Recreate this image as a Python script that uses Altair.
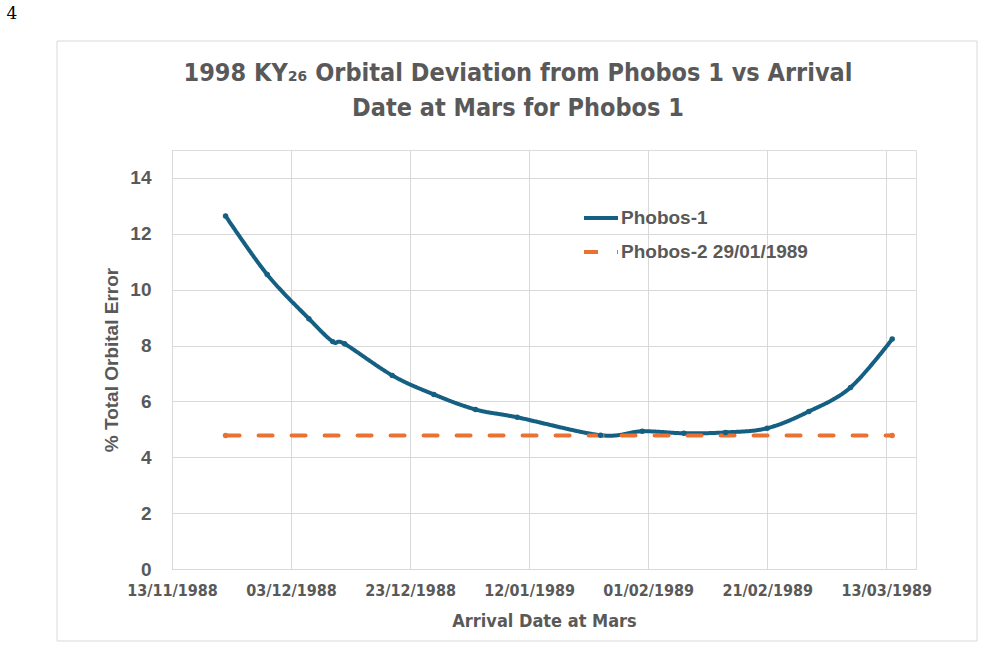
import altair as alt
import pandas as pd

# ---- data ----
p1_dates = ["1988-11-22", "1988-11-29", "1988-12-06", "1988-12-10", "1988-12-12",
            "1988-12-20", "1988-12-27", "1989-01-03", "1989-01-10", "1989-01-24",
            "1989-01-31", "1989-02-07", "1989-02-14", "1989-02-21", "1989-02-28",
            "1989-03-07", "1989-03-14"]
p1_values = [12.64, 10.54, 8.96, 8.14, 8.06, 6.93, 6.25, 5.71, 5.43, 4.79,
             4.93, 4.86, 4.89, 5.04, 5.64, 6.50, 8.23]
p2_dates = ["1988-11-22", "1989-03-14"]
p2_values = [4.78, 4.78]
series_names = ["Phobos-1", "Phobos-2 29/01/1989"]
x_tick_dates = [(1988, 11, 13), (1988, 12, 3), (1988, 12, 23), (1989, 1, 12),
                (1989, 2, 1), (1989, 2, 21), (1989, 3, 13)]
y_ticks = [0, 2, 4, 6, 8, 10, 12, 14]
title_lines = ["1998 KY\u2082\u2086 Orbital Deviation from Phobos 1 vs Arrival",
               "Date at Mars for Phobos 1"]

df = pd.DataFrame({
    "date": p1_dates + p2_dates,
    "value": p1_values + p2_values,
    "series": [series_names[0]] * len(p1_dates) + [series_names[1]] * len(p2_dates),
})

GREY = "#595959"
GRID = "#d9d9d9"
NARROW = "Liberation Sans Narrow, DejaVu Sans Condensed, Roboto, sans-serif"
WIDE = "Liberation Sans, Arial, sans-serif"

x_enc = alt.X(
    "date:T",
    scale=alt.Scale(type="utc",
                    domain=[alt.DateTime(year=1988, month=11, date=13, utc=True),
                            alt.DateTime(year=1989, month=3, date=18, utc=True)]),
    axis=alt.Axis(
        values=[alt.DateTime(year=y, month=m, date=d, utc=True) for (y, m, d) in x_tick_dates],
        labelExpr="utcFormat(datum.value, '%d/%m/%Y')",
        labelFont=NARROW, labelFontSize=16, labelFontWeight="bold", labelColor=GREY,
        labelPadding=13, ticks=False, domainColor=GRID, gridColor=GRID,
        labelOverlap=False, labelFlush=False,
        title="Arrival Date at Mars", titleFont=NARROW, titleFontSize=18,
        titleFontWeight="bold", titleColor=GREY, titlePadding=14,
    ),
)
y_enc = alt.Y(
    "value:Q",
    scale=alt.Scale(domain=[0, 15], nice=False),
    axis=alt.Axis(
        values=y_ticks, labelFont=WIDE, labelFontSize=19, labelFontWeight="bold",
        labelColor=GREY, labelPadding=21, ticks=False, domainColor=GRID, gridColor=GRID,
        title="% Total Orbital Error", titleFont=WIDE, titleFontSize=19,
        titleFontWeight="bold", titleColor=GREY, titlePadding=8,
    ),
)

legend_kw = dict(title=None, orient="none", legendX=410, legendY=49,
                 symbolType="stroke", symbolSize=1156, symbolStrokeWidth=4,
                 labelFont=WIDE, labelFontSize=19, labelFontWeight="bold",
                 labelColor=GREY, labelOffset=1, labelLimit=400, rowPadding=5, padding=0)

lines = alt.Chart(df).mark_line(
    interpolate="cardinal", strokeWidth=4, strokeCap="round",
    point=alt.OverlayMarkDef(filled=True, size=30, opacity=1),
).encode(
    x=x_enc,
    y=y_enc,
    color=alt.Color("series:N",
                    scale=alt.Scale(domain=series_names, range=["#156082", "#E97132"]),
                    legend=alt.Legend(**legend_kw)),
    strokeDash=alt.StrokeDash("series:N",
                              scale=alt.Scale(domain=series_names, range=[[1, 0], [14, 19]]),
                              legend=alt.Legend(**legend_kw)),
)

frame = alt.Chart(alt.Data(values=[{"a": 1}])).mark_rect(
    fill="white", fillOpacity=0, stroke=GRID, strokeWidth=1
).encode(x=alt.value(-115), x2=alt.value(805), y=alt.value(-109), y2=alt.value(491))

title = alt.Chart(alt.Data(values=[{"a": 1}])).mark_text(
    text=title_lines, font=NARROW, fontSize=25, fontWeight="bold", color=GREY,
    align="center", baseline="middle", lineHeight=35
).encode(x=alt.value(346), y=alt.value(-77))

page_no = alt.Chart(alt.Data(values=[{"t": "4"}])).mark_text(
    font="DejaVu Serif, Liberation Serif, serif", fontSize=17, color="black",
    align="center", baseline="middle"
).encode(text="t:N", x=alt.value(-160), y=alt.value(-136))

chart = alt.layer(frame, title, lines, page_no).properties(
    width=744, height=419,
    autosize=alt.AutoSizeParams(type="none"),
    padding={"left": 172, "top": 150, "right": 68, "bottom": 79},
).configure_view(stroke=None).configure(background="white")

chart.save("out.html", embed_options={"renderer": "svg", "actions": False})
